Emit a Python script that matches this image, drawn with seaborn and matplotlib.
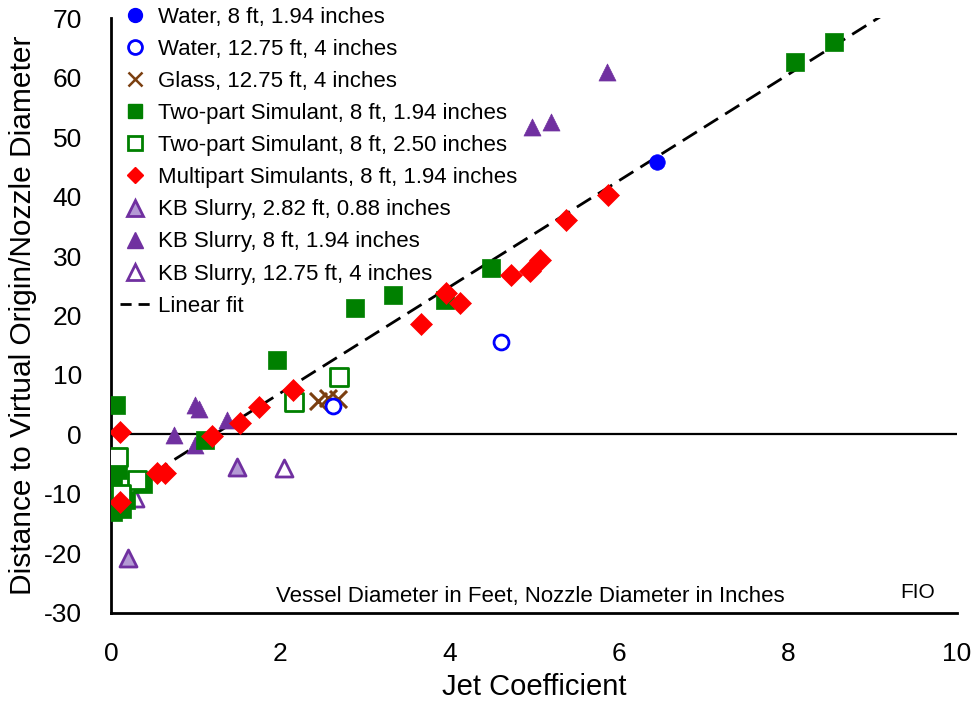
import matplotlib
matplotlib.use("Agg")
import matplotlib.pyplot as plt
from matplotlib.lines import Line2D
import numpy as np
import pandas as pd
import seaborn as sns

sns.set_theme(style="white")
plt.rcParams['font.family'] = ['Liberation Sans', 'DejaVu Sans']
plt.rcParams['axes.unicode_minus'] = False

# ---- data ----
water8_x = [6.46]
water8_y = [45.8]

water1275_x = [4.61, 2.63]
water1275_y = [15.5, 4.8]

glass_x = [2.45, 2.56, 2.68]
glass_y = [5.6, 6.1, 5.9]

twopart194_x = [8.55, 8.08, 4.49, 3.95, 3.33, 2.89, 1.96, 1.11, 0.06,
                0.03, 0.08, 0.38, 0.02, 0.13, 0.18]
twopart194_y = [66.0, 62.6, 28.0, 22.6, 23.5, 21.3, 12.5, -0.9, 5.0,
                -7.8, -6.0, -8.4, -13.0, -12.6, -11.0]

twopart250_x = [2.69, 2.16, 0.08, 0.31, 0.12]
twopart250_y = [9.7, 5.5, -3.8, -7.6, -10.0]

multi_x = [5.87, 5.38, 5.07, 4.95, 4.73, 3.96, 4.12, 3.66, 2.15, 1.75,
           1.53, 1.20, 0.64, 0.11, 0.55, 0.11]
multi_y = [40.3, 36.0, 29.3, 27.5, 26.8, 23.8, 22.1, 18.6, 7.5, 4.6,
           1.9, -0.3, -6.5, 0.4, -6.5, -11.3]

kb282_x = [0.20, 1.49]
kb282_y = [-20.8, -5.5]

kb8_x = [5.86, 5.20, 4.98, 0.99, 1.04, 1.37, 0.74, 0.99]
kb8_y = [60.9, 52.5, 51.6, 5.0, 4.2, 2.4, -0.1, -1.8]

kb1275_x = [2.05, 0.29]
kb1275_y = [-5.6, -10.7]

fit_slope = 8.92
fit_intercept = -10.9
fit_x = [0.0, 10.0]

labels = ["Water, 8 ft, 1.94 inches",
          "Water, 12.75 ft, 4 inches",
          "Glass, 12.75 ft, 4 inches",
          "Two-part Simulant, 8 ft, 1.94 inches",
          "Two-part Simulant, 8 ft, 2.50 inches",
          "Multipart Simulants, 8 ft, 1.94 inches",
          "KB Slurry, 2.82 ft, 0.88 inches",
          "KB Slurry, 8 ft, 1.94 inches",
          "KB Slurry, 12.75 ft, 4 inches",
          "Linear fit"]

x_ticks = [0, 2, 4, 6, 8, 10]
y_ticks = [-30, -20, -10, 0, 10, 20, 30, 40, 50, 60, 70]

# ---- styles ----
BLUE = "#0000FF"
GREEN = "#008000"
RED = "#FF0000"
BROWN = "#7B3F10"
PURPLE = "#7030A0"
LPURPLE = "#B49AD4"

fig = plt.figure(figsize=(9.75, 7.04), dpi=100)
ax = fig.add_axes([0.1138, 0.1293, 0.8677, 0.8451])

# zero line
ax.axhline(0, color="black", lw=1.6, zorder=1)

# linear fit
fit_y = [fit_slope * v + fit_intercept for v in fit_x]
sns.lineplot(x=fit_x, y=fit_y, ax=ax, color="black", lw=2.0,
             dashes=False, zorder=2)
ax.lines[-1].set_dashes([6, 3])

ms = 150
# series
sns.scatterplot(x=kb8_x, y=kb8_y, ax=ax, marker="^", s=ms, color=PURPLE,
                edgecolor=PURPLE, linewidth=0.5, zorder=3)
sns.scatterplot(x=kb282_x, y=kb282_y, ax=ax, marker="^", s=ms, color=LPURPLE,
                edgecolor=PURPLE, linewidth=2, zorder=3)
ax.scatter(kb1275_x, kb1275_y, marker="^", s=ms, facecolors="white",
           edgecolors=PURPLE, linewidths=2, zorder=3)
sns.scatterplot(x=twopart194_x, y=twopart194_y, ax=ax, marker="s", s=ms,
                color=GREEN, edgecolor=GREEN, linewidth=0.5, zorder=4)
ax.scatter(twopart250_x, twopart250_y, marker="s", s=ms, facecolors="white",
           edgecolors=GREEN, linewidths=2, zorder=4)
sns.scatterplot(x=multi_x, y=multi_y, ax=ax, marker="D", s=125, color=RED,
                edgecolor=RED, linewidth=0.5, zorder=5)
sns.scatterplot(x=glass_x, y=glass_y, ax=ax, marker="x", s=150, color=BROWN,
                linewidth=2.2, zorder=5)
ax.scatter(water1275_x, water1275_y, marker="o", s=115, facecolors="white",
           edgecolors=BLUE, linewidths=2, zorder=5)
sns.scatterplot(x=water8_x, y=water8_y, ax=ax, marker="o", s=125, color=BLUE,
                edgecolor=BLUE, linewidth=0.5, zorder=5)

# axes
ax.set_xlim(0, 10)
ax.set_ylim(-30, 70)
ax.set_xticks(x_ticks)
ax.set_yticks(y_ticks)
ax.tick_params(axis="both", direction="in", length=7, width=2, labelsize=19,
               colors="black", pad=21)
ax.set_xlabel("Jet Coefficient", fontsize=21, labelpad=5, color="black")
ax.set_ylabel("Distance to Virtual Origin/Nozzle Diameter", fontsize=21.5,
              labelpad=5, color="black")
for side in ["top", "right"]:
    ax.spines[side].set_visible(False)
for side in ["left", "bottom"]:
    ax.spines[side].set_color("black")
    ax.spines[side].set_linewidth(2)
ax.grid(False)

# legend
handles = [
    Line2D([], [], ls="", marker="o", ms=10, mfc=BLUE, mec=BLUE),
    Line2D([], [], ls="", marker="o", ms=10, mfc="white", mec=BLUE, mew=2),
    Line2D([], [], ls="", marker="x", ms=10, color=BROWN, mew=1.8),
    Line2D([], [], ls="", marker="s", ms=10, mfc=GREEN, mec=GREEN),
    Line2D([], [], ls="", marker="s", ms=10, mfc="white", mec=GREEN, mew=2),
    Line2D([], [], ls="", marker="D", ms=8, mfc=RED, mec=RED),
    Line2D([], [], ls="", marker="^", ms=11, mfc=LPURPLE, mec=PURPLE, mew=2),
    Line2D([], [], ls="", marker="^", ms=11, mfc=PURPLE, mec=PURPLE),
    Line2D([], [], ls="", marker="^", ms=11, mfc="white", mec=PURPLE, mew=2),
    Line2D([], [], color="black", lw=2, dashes=[4, 2.5]),
]
leg = ax.legend(handles, labels, loc="upper left", frameon=False,
                fontsize=16, handlelength=1.4, handletextpad=0.32,
                labelspacing=0.50, borderaxespad=0.0,
                bbox_to_anchor=(0.0, 1.034))
for t in leg.get_texts():
    t.set_color("black")

ax.text(0.496, 0.018, "Vessel Diameter in Feet, Nozzle Diameter in Inches",
        transform=ax.transAxes, ha="center", va="baseline", fontsize=16,
        color="black")
ax.text(0.954, 0.025, "FIO", transform=ax.transAxes, ha="center",
        va="baseline", fontsize=15, color="black")

fig.savefig("out.png", dpi=100)
